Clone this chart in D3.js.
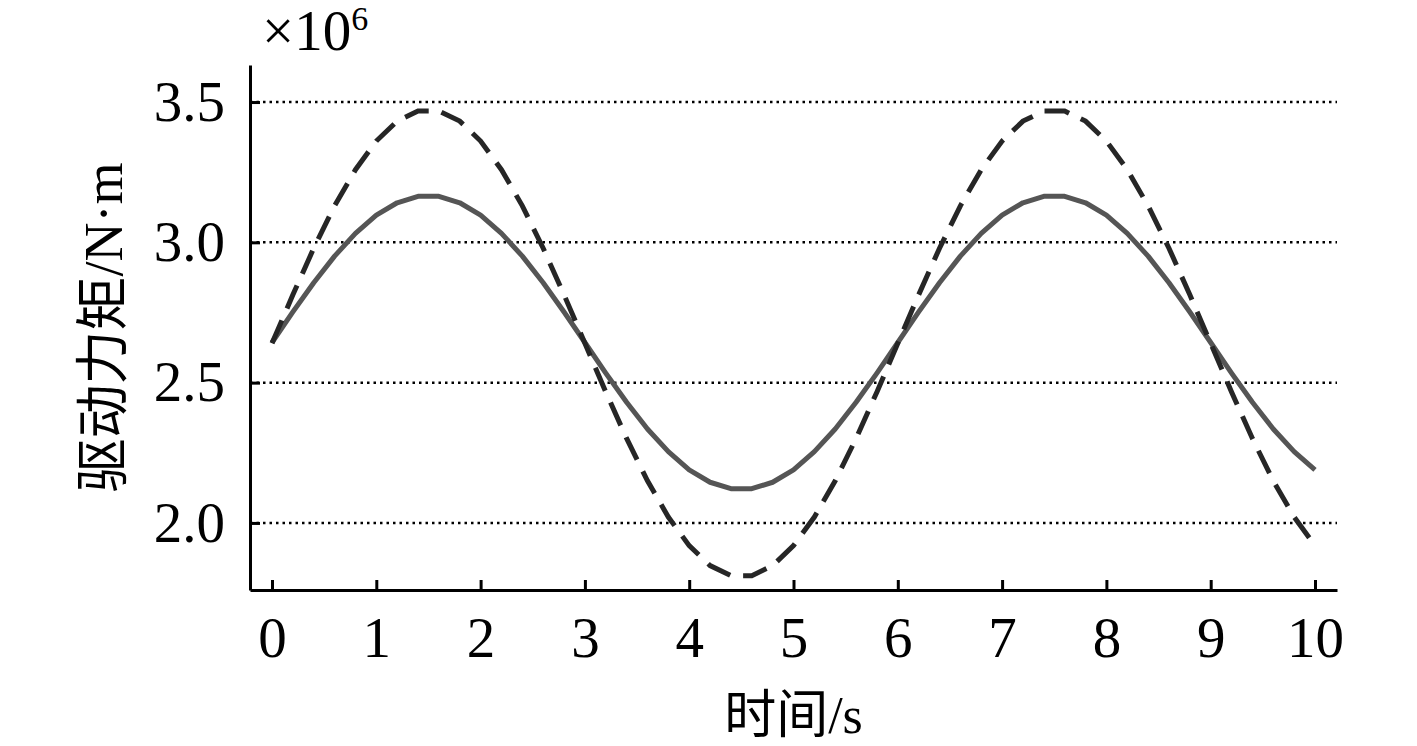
<!DOCTYPE html>
<html>
<head>
<meta charset="utf-8">
<script src="https://cdn.jsdelivr.net/npm/d3@7"></script>
<style>
  html, body { margin: 0; padding: 0; background: #fff; }
  svg { display: block; }
  text { font-family: "Liberation Serif", "Noto Sans CJK SC", serif; fill: #000; }
</style>
</head>
<body>
<svg id="chart" width="1417" height="746"></svg>
<script>
// ---- data ----
const times = [0,0.2,0.4,0.6,0.8,1.0,1.2,1.4,1.6,1.8,2.0,2.2,2.4,2.6,2.8,3.0,3.2,3.4,3.6,3.8,4.0,4.2,4.4,4.6,4.8,5.0,5.2,5.4,5.6,5.8,6.0,6.2,6.4,6.6,6.8,7.0,7.2,7.4,7.6,7.8,8.0,8.2,8.4,8.6,8.8,9.0,9.2,9.4,9.6,9.8,10.0];
const solidSeries = [2.643,2.752,2.856,2.951,3.032,3.097,3.141,3.164,3.164,3.141,3.097,3.032,2.951,2.856,2.752,2.643,2.534,2.430,2.335,2.254,2.189,2.145,2.122,2.122,2.145,2.189,2.254,2.335,2.430,2.534,2.643,2.752,2.856,2.951,3.032,3.097,3.141,3.164,3.164,3.141,3.097,3.032,2.951,2.856,2.752,2.643,2.534,2.430,2.335,2.254,2.189];
const dashedSeries = [2.640,2.813,2.979,3.130,3.259,3.361,3.432,3.468,3.468,3.432,3.361,3.259,3.130,2.979,2.813,2.640,2.467,2.301,2.150,2.021,1.919,1.848,1.812,1.812,1.848,1.919,2.021,2.150,2.301,2.467,2.640,2.813,2.979,3.130,3.259,3.361,3.432,3.468,3.468,3.432,3.361,3.259,3.130,2.979,2.813,2.640,2.467,2.301,2.150,2.021,1.919];
const xTicks = [0,1,2,3,4,5,6,7,8,9,10];
const yTicks = [2.0,2.5,3.0,3.5];
const xTitle = "时间/s";
const yTitle = "驱动力矩/N·m";

// ---- layout ----
const svg = d3.select("#chart");
const plotLeft = 250, plotRight = 1337, plotTop = 65, plotBottom = 590;
const x = d3.scaleLinear().domain([-0.211, 10.211]).range([plotLeft, plotRight]);
const y = d3.scaleLinear().domain([1.761, 3.632]).range([plotBottom, plotTop]);
const FS = 57;

// grid lines
svg.append("g").selectAll("line").data(yTicks).join("line")
  .attr("x1", plotLeft).attr("x2", plotRight)
  .attr("y1", d => y(d)).attr("y2", d => y(d))
  .attr("stroke", "#000").attr("stroke-width", 2.5)
  .attr("stroke-dasharray", "2.5,4");

// curves
const line = d3.line().x((d, i) => x(times[i])).y(d => y(d));
svg.append("path").datum(solidSeries)
  .attr("d", line).attr("fill", "none")
  .attr("stroke", "#555555").attr("stroke-width", 5)
  .attr("stroke-linejoin", "round");
svg.append("path").datum(dashedSeries)
  .attr("d", line).attr("fill", "none")
  .attr("stroke", "#262626").attr("stroke-width", 5)
  .attr("stroke-dasharray", "25,13");

// axes
const xAxis = d3.axisBottom(x).tickValues(xTicks).tickFormat(d3.format("d"))
  .tickSizeInner(-10).tickSizeOuter(0).tickPadding(27);
const gx = svg.append("g").attr("transform", `translate(0,${plotBottom})`).call(xAxis);
const yAxis = d3.axisLeft(y).tickValues(yTicks).tickFormat(d3.format(".1f"))
  .tickSizeInner(-10).tickSizeOuter(0).tickPadding(25);
const gy = svg.append("g").attr("transform", `translate(${plotLeft},0)`).call(yAxis);

[gx, gy].forEach(g => {
  g.select(".domain").attr("stroke", "#000").attr("stroke-width", 3);
  g.selectAll(".tick line").attr("stroke", "#000").attr("stroke-width", 3);
  g.selectAll(".tick text").attr("font-size", FS)
    .attr("font-family", "Liberation Serif").attr("fill", "#000");
});
gy.selectAll(".tick text").attr("dy", "0.32em");

// titles
svg.append("text")
  .attr("x", (plotLeft + plotRight) / 2).attr("y", 733)
  .attr("text-anchor", "middle").attr("font-size", 52)
  .text(xTitle);
svg.append("text")
  .attr("transform", `translate(122,${(plotTop + plotBottom) / 2}) rotate(-90)`)
  .attr("text-anchor", "middle").attr("font-size", 54)
  .text(yTitle);

// exponent
const ex = svg.append("text").attr("x", 262).attr("y", 50).attr("font-size", FS);
ex.append("tspan").text("×10");
ex.append("tspan").attr("font-size", 34).attr("dy", -20).text("6");
</script>
</body>
</html>
